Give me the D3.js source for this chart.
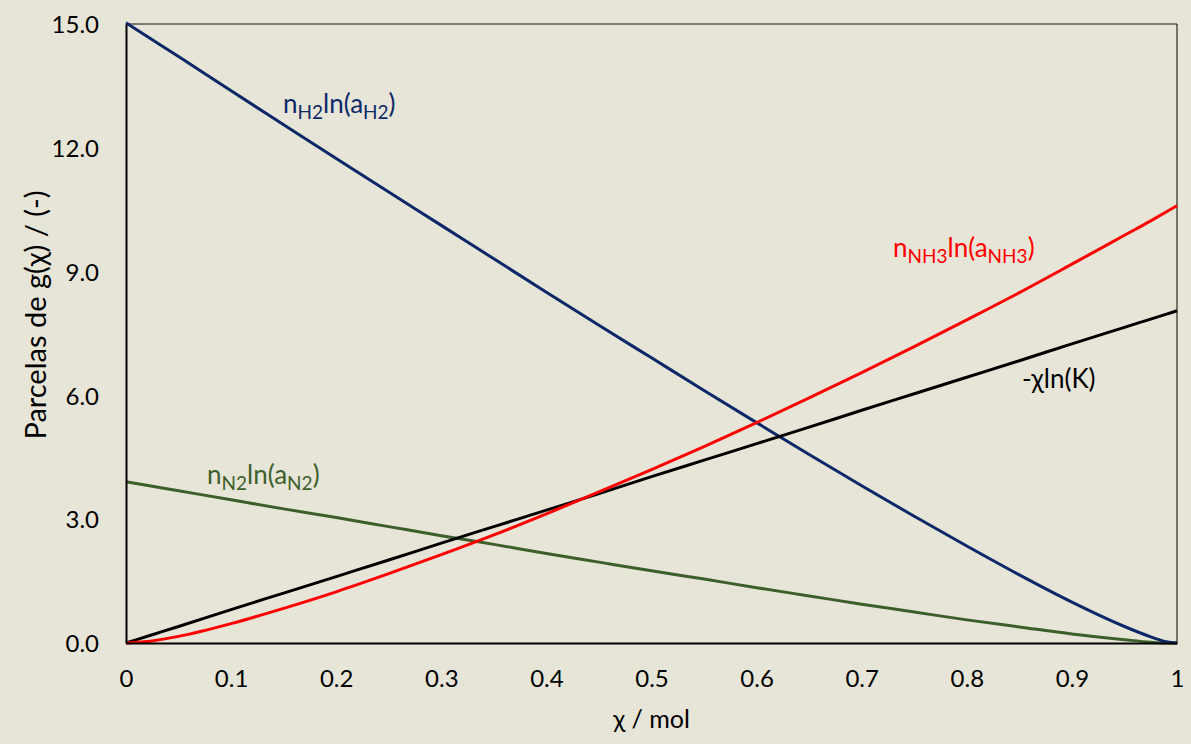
<!DOCTYPE html>
<html><head><meta charset="utf-8">
<script src="https://cdn.jsdelivr.net/npm/d3@7"></script>
<style>
html,body{margin:0;padding:0;background:#E7E5D7;}
svg{display:block;font-family:Lato,"Open Sans",sans-serif;}
</style></head>
<body><svg id="c" width="1191" height="744"></svg>
<script>
const chi =   [0, 0.025, 0.05, 0.1, 0.15, 0.2, 0.25, 0.3, 0.35, 0.4, 0.45, 0.5, 0.55, 0.6, 0.65, 0.7, 0.75, 0.8, 0.85, 0.9, 0.95, 0.975, 0.99, 1];
const nH2 =   [15.03, 14.62, 14.21, 13.38, 12.56, 11.74, 10.93, 10.12, 9.31, 8.50, 7.70, 6.91, 6.12, 5.34, 4.57, 3.81, 3.07, 2.35, 1.65, 0.99, 0.40, 0.15, 0.03, 0];
const nN2 =   [3.91, 3.80, 3.69, 3.47, 3.25, 3.04, 2.82, 2.60, 2.39, 2.17, 1.96, 1.75, 1.55, 1.34, 1.14, 0.94, 0.75, 0.56, 0.39, 0.22, 0.08, 0.02, 0.00, 0];
const nNH3 =  [0, 0.05, 0.16, 0.47, 0.84, 1.24, 1.68, 2.14, 2.62, 3.13, 3.66, 4.20, 4.76, 5.34, 5.94, 6.55, 7.18, 7.83, 8.49, 9.18, 9.88, 10.23, 10.45, 10.60];
const chiLnK =[0, 0.20, 0.40, 0.81, 1.21, 1.61, 2.01, 2.42, 2.82, 3.22, 3.62, 4.03, 4.43, 4.83, 5.23, 5.64, 6.04, 6.44, 6.84, 7.25, 7.65, 7.85, 7.97, 8.05];
const xTicks = [0,0.1,0.2,0.3,0.4,0.5,0.6,0.7,0.8,0.9,1];
const xTickLabels = ["0","0.1","0.2","0.3","0.4","0.5","0.6","0.7","0.8","0.9","1"];
const yTicks = [0,3,6,9,12,15];

const svg = d3.select("#c");
const m = {l:126, r:1177, t:24, b:643};
const x = d3.scaleLinear().domain([0,1]).range([m.l,m.r]);
const y = d3.scaleLinear().domain([0,15]).range([m.b,m.t]);

// plot border
svg.append("line").attr("x1",m.l).attr("x2",m.r).attr("y1",m.t).attr("y2",m.t).attr("stroke","#55554d").attr("stroke-width",1.5);
svg.append("line").attr("x1",m.r).attr("x2",m.r).attr("y1",m.t).attr("y2",m.b).attr("stroke","#000").attr("stroke-width",1);

const series = [
  {v:nN2, c:"#3C5F2A"},
  {v:nH2, c:"#0C2868"},
  {v:chiLnK, c:"#000000"},
  {v:nNH3, c:"#FF0000"}
];
const line = d3.line().curve(d3.curveMonotoneX);
series.forEach(s=>{
  svg.append("path").attr("fill","none").attr("stroke",s.c).attr("stroke-width",3)
    .attr("d", line(chi.map((c,i)=>[x(c), y(s.v[i])])));
});

// axes
const xa = svg.append("g").attr("transform",`translate(0,${m.b})`)
  .call(d3.axisBottom(x).tickValues(xTicks).tickFormat((d,i)=>xTickLabels[i]).tickSize(0).tickPadding(27));
const ya = svg.append("g").attr("transform",`translate(${m.l},0)`)
  .call(d3.axisLeft(y).tickValues(yTicks).tickFormat(d3.format(".1f")).tickSize(0).tickPadding(27));
[xa,ya].forEach(a=>{
  a.select(".domain").attr("stroke","#000").attr("stroke-width",2);
  a.selectAll("text").attr("font-size",24).attr("fill","#000").attr("font-family","Lato,'Open Sans',sans-serif");
});
ya.selectAll("text").attr("dy","0.36em");

// axis titles
svg.append("text").attr("x",(m.l+m.r)/2).attr("y",728).attr("text-anchor","middle")
  .attr("font-size",25).text("χ / mol");
svg.append("text").attr("transform",`translate(46,315) rotate(-90)`).attr("text-anchor","middle")
  .attr("font-size",29).text("Parcelas de g(χ) / (-)");

// series labels
function lab(px,py,color,parts){
  const t = svg.append("text").attr("x",x(px)).attr("y",y(py)).attr("fill",color).attr("font-size",26);
  parts.forEach(p=>{
    if(p.sub){ t.append("tspan").attr("font-size",19).attr("dy",6).text(p.t); }
    else { t.append("tspan").attr("dy",p.after? -6:0).text(p.t); }
  });
}
lab(0.1494,12.84,"#0C2868",[{t:"n"},{t:"H2",sub:1},{t:"ln(a",after:1},{t:"H2",sub:1},{t:")",after:1}]);
lab(0.7298,9.35,"#FF0000",[{t:"n"},{t:"NH3",sub:1},{t:"ln(a",after:1},{t:"NH3",sub:1},{t:")",after:1}]);
lab(0.0771,3.85,"#3C5F2A",[{t:"n"},{t:"N2",sub:1},{t:"ln(a",after:1},{t:"N2",sub:1},{t:")",after:1}]);
svg.append("text").attr("x",x(0.8525)).attr("y",y(6.18)).attr("font-size",26).attr("fill","#000").text("-χln(K)");
</script></body></html>
